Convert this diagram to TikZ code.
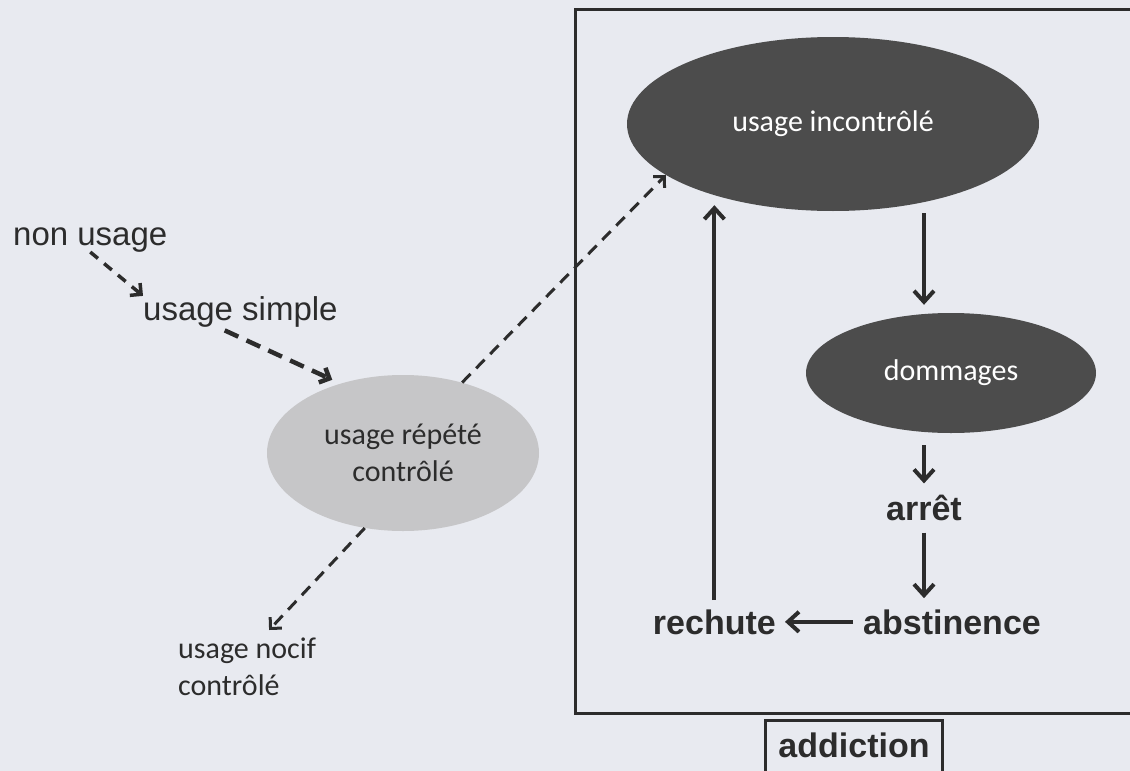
\documentclass[tikz,border=0pt]{standalone}
\usepackage{fontspec}
\setmainfont{Liberation Sans}
\newfontfamily\calibrifont{Carlito}
\usetikzlibrary{arrows.meta,shapes.geometric}

\definecolor{paper}{RGB}{232,234,240}
\definecolor{ink}{RGB}{44,44,44}
\definecolor{darkblob}{RGB}{76,76,76}
\definecolor{lightblob}{RGB}{198,198,200}

\newcommand{\plaintext}{\fontsize{33}{40}\selectfont}
\newcommand{\boldtext}{\fontsize{34}{40}\selectfont\bfseries}
\newcommand{\blobtext}{\calibrifont\fontsize{30}{37}\selectfont}

\begin{document}
\begin{tikzpicture}[x=1pt,y=-1pt,
        >={Straight Barb[length=11pt,width=20pt]},
        blob/.style={ellipse,inner sep=0pt,align=center,font=\blobtext},
        word/.style={inner sep=0pt,text=ink},
        flow/.style={->,line width=4pt,draw=ink},
        hop/.style={->,line width=3pt,draw=ink,dash pattern=on 12pt off 8pt,
            >={Straight Barb[length=8pt,width=16pt]}}]

        \fill[paper] (0,0) rectangle (1130,771);
        \clip (0,0) rectangle (1130,771);

        % Frame round the addiction cycle
        \draw[line width=3pt,ink] (575,9) rectangle (1150,713);

        \node[blob,fill=darkblob,text=white,minimum width=412pt,minimum height=174pt] (incontrole) at (833,124) {usage incontrôlé};
        \node[blob,fill=darkblob,text=white,minimum width=290pt,minimum height=120pt] (dommages) at (951,373) {dommages};
        \node[blob,fill=lightblob,text=ink,minimum width=272pt,minimum height=156pt] (repete) at (403,453) {usage répété\\contrôlé};

        \node[word,anchor=base west,font=\plaintext] (nonusage) at (13,245) {non usage};
        \node[word,anchor=base west,font=\plaintext] (simple) at (143,320) {usage simple};
        \node[word,anchor=north west,align=left,font=\blobtext] (nocif) at (178,638) {usage nocif\\contrôlé};

        \node[word,anchor=base,font=\boldtext] (arret) at (924,520) {arrêt};
        \node[word,anchor=base west,font=\boldtext] (abstinence) at (863,634) {abstinence};
        \node[word,anchor=base east,font=\boldtext] (rechute) at (776,634) {rechute};
        \node[word,anchor=base,font=\boldtext,draw=ink,line width=3pt,inner xsep=13pt,inner ysep=12pt,text depth=20pt] (addiction) at (854,757) {addiction};

        % Draw dashed steps of use
        \draw[hop,line width=3.5pt,dash pattern=on 10pt off 8pt] (nonusage.south) -- (simple.north west);
        \draw[hop,line width=4.5pt,dash pattern=on 15pt off 9pt,shorten <=8pt,shorten >=9pt] ([xshift=-23pt]simple.south) -- (repete.132);
        \draw[hop] (repete.50) -- (incontrole.197);
        \draw[hop] (repete.243) -- ([xshift=22pt,yshift=8pt]nocif.north);

        % Draw the cycle
        \draw[flow,shorten <=2pt,shorten >=8pt] (arret.north |- incontrole.south) -- (arret.north |- dommages.north);
        \draw[flow,shorten <=12pt,shorten >=11pt] (dommages.south -| arret.north) -- (arret.north);
        \draw[flow,shorten <=12pt,shorten >=11pt] (arret.south) -- (arret.south |- abstinence.north);
        \draw[flow,shorten <=10pt,shorten >=9pt] (abstinence.west) -- (rechute.east);
        \draw[flow,shorten <=9pt,shorten >=-6pt] (rechute.north) -- (rechute.north |- incontrole.south);

    \end{tikzpicture}
\end{document}
